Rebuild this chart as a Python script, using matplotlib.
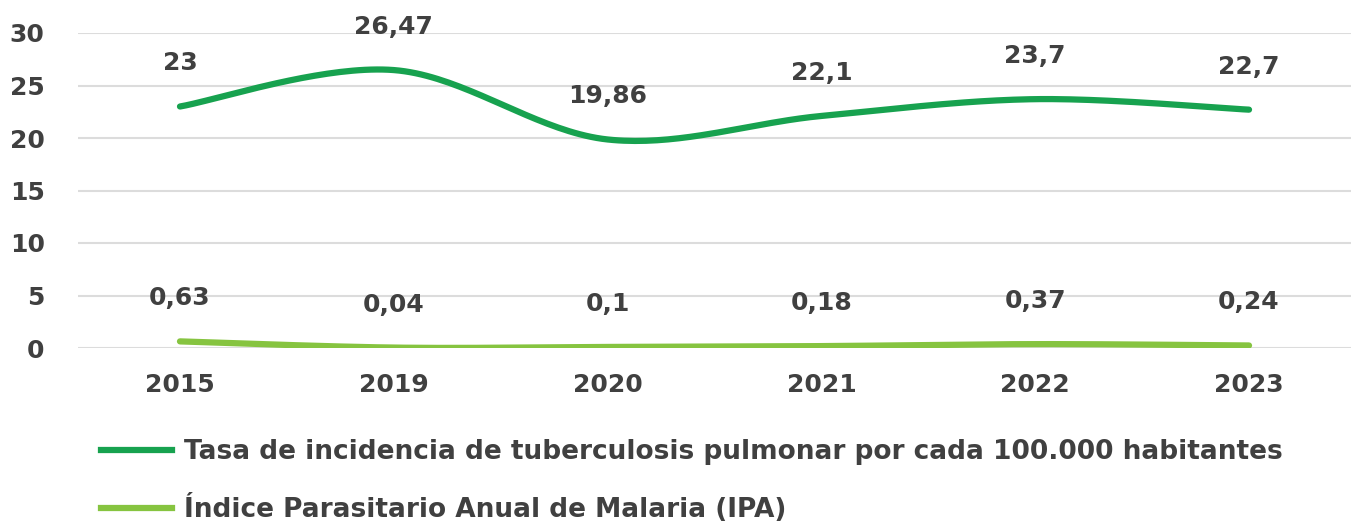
import numpy as np
from matplotlib import pyplot as plt
from matplotlib.lines import Line2D

years = ['2015', '2019', '2020', '2021', '2022', '2023']
tb_rate = [23, 26.47, 19.86, 22.1, 23.7, 22.7]
malaria_ipa = [0.63, 0.04, 0.1, 0.18, 0.37, 0.24]
tb_labels = ['23', '26,47', '19,86', '22,1', '23,7', '22,7']
malaria_labels = ['0,63', '0,04', '0,1', '0,18', '0,37', '0,24']

tb_name = 'Tasa de incidencia de tuberculosis pulmonar por cada 100.000 habitantes'
malaria_name = 'Índice Parasitario Anual de Malaria (IPA)'

TB_COLOR = '#17a24f'
MAL_COLOR = '#86c440'
TEXT = '#404040'


def smooth(xs, ys, n=40):
    # catmull-rom style bezier, like the "smoothed line" option of spreadsheet charts
    p = np.column_stack([xs, ys]).astype(float)
    p = np.vstack([p[0], p, p[-1]])
    out = []
    t = np.linspace(0, 1, n)[:, None]
    for i in range(1, len(p) - 2):
        p0, p1, p2, p3 = p[i - 1], p[i], p[i + 1], p[i + 2]
        c1 = p1 + (p2 - p0) / 6
        c2 = p2 - (p3 - p1) / 6
        seg = ((1 - t) ** 3) * p1 + 3 * ((1 - t) ** 2) * t * c1 + 3 * (1 - t) * t ** 2 * c2 + t ** 3 * p2
        out.append(seg if i == 1 else seg[1:])
    seg = np.vstack(out)
    return seg[:, 0], seg[:, 1]


plt.rcParams['font.family'] = 'DejaVu Sans'
plt.rcParams['font.weight'] = 'bold'

fig = plt.figure(figsize=(13.51, 5.25), dpi=100)
ax = fig.add_axes([78 / 1351, 1 - 348 / 525, 1273 / 1351, 315 / 525])

x = np.arange(len(years))
sx, sy = smooth(x, tb_rate)
ax.plot(sx, sy, color=TB_COLOR, lw=4.5, solid_capstyle='round', zorder=3)
sx, sy = smooth(x, malaria_ipa)
ax.plot(sx, sy, color=MAL_COLOR, lw=4.5, solid_capstyle='round', zorder=3)

for xi, yi, lab in zip(x, tb_rate, tb_labels):
    ax.annotate(lab, (xi, yi), xytext=(0, 31), textcoords='offset points',
                ha='center', va='center', fontsize=18, color=TEXT, fontweight='bold',
                annotation_clip=False)
for xi, yi, lab in zip(x, malaria_ipa, malaria_labels):
    ax.annotate(lab, (xi, yi), xytext=(0, 31), textcoords='offset points',
                ha='center', va='center', fontsize=18, color=TEXT, fontweight='bold',
                annotation_clip=False)

ax.set_xlim(-0.477, 5.477)
ax.set_ylim(0, 30)
ax.set_yticks(range(0, 31, 5))
ax.set_xticks(x)
ax.set_xticklabels(years)
ax.tick_params(axis='both', length=0, labelsize=18, labelcolor=TEXT)
ax.tick_params(axis='x', pad=18)
ax.tick_params(axis='y', pad=24)
ax.grid(axis='y', color='#dcdcdc', lw=1.5)
ax.set_axisbelow(True)
for s in ax.spines.values():
    s.set_visible(False)

handles = [Line2D([], [], color=TB_COLOR, lw=4.5),
           Line2D([], [], color=MAL_COLOR, lw=4.5)]
fig.legend(handles, [tb_name, malaria_name], loc='upper left',
           bbox_to_anchor=(101 / 1351, 1 - 439 / 525), frameon=False,
           fontsize=19, labelcolor=TEXT, handlelength=2.7, handletextpad=0.45,
           labelspacing=1.1, borderpad=0, borderaxespad=0)

plt.savefig('out.png', dpi=100)
